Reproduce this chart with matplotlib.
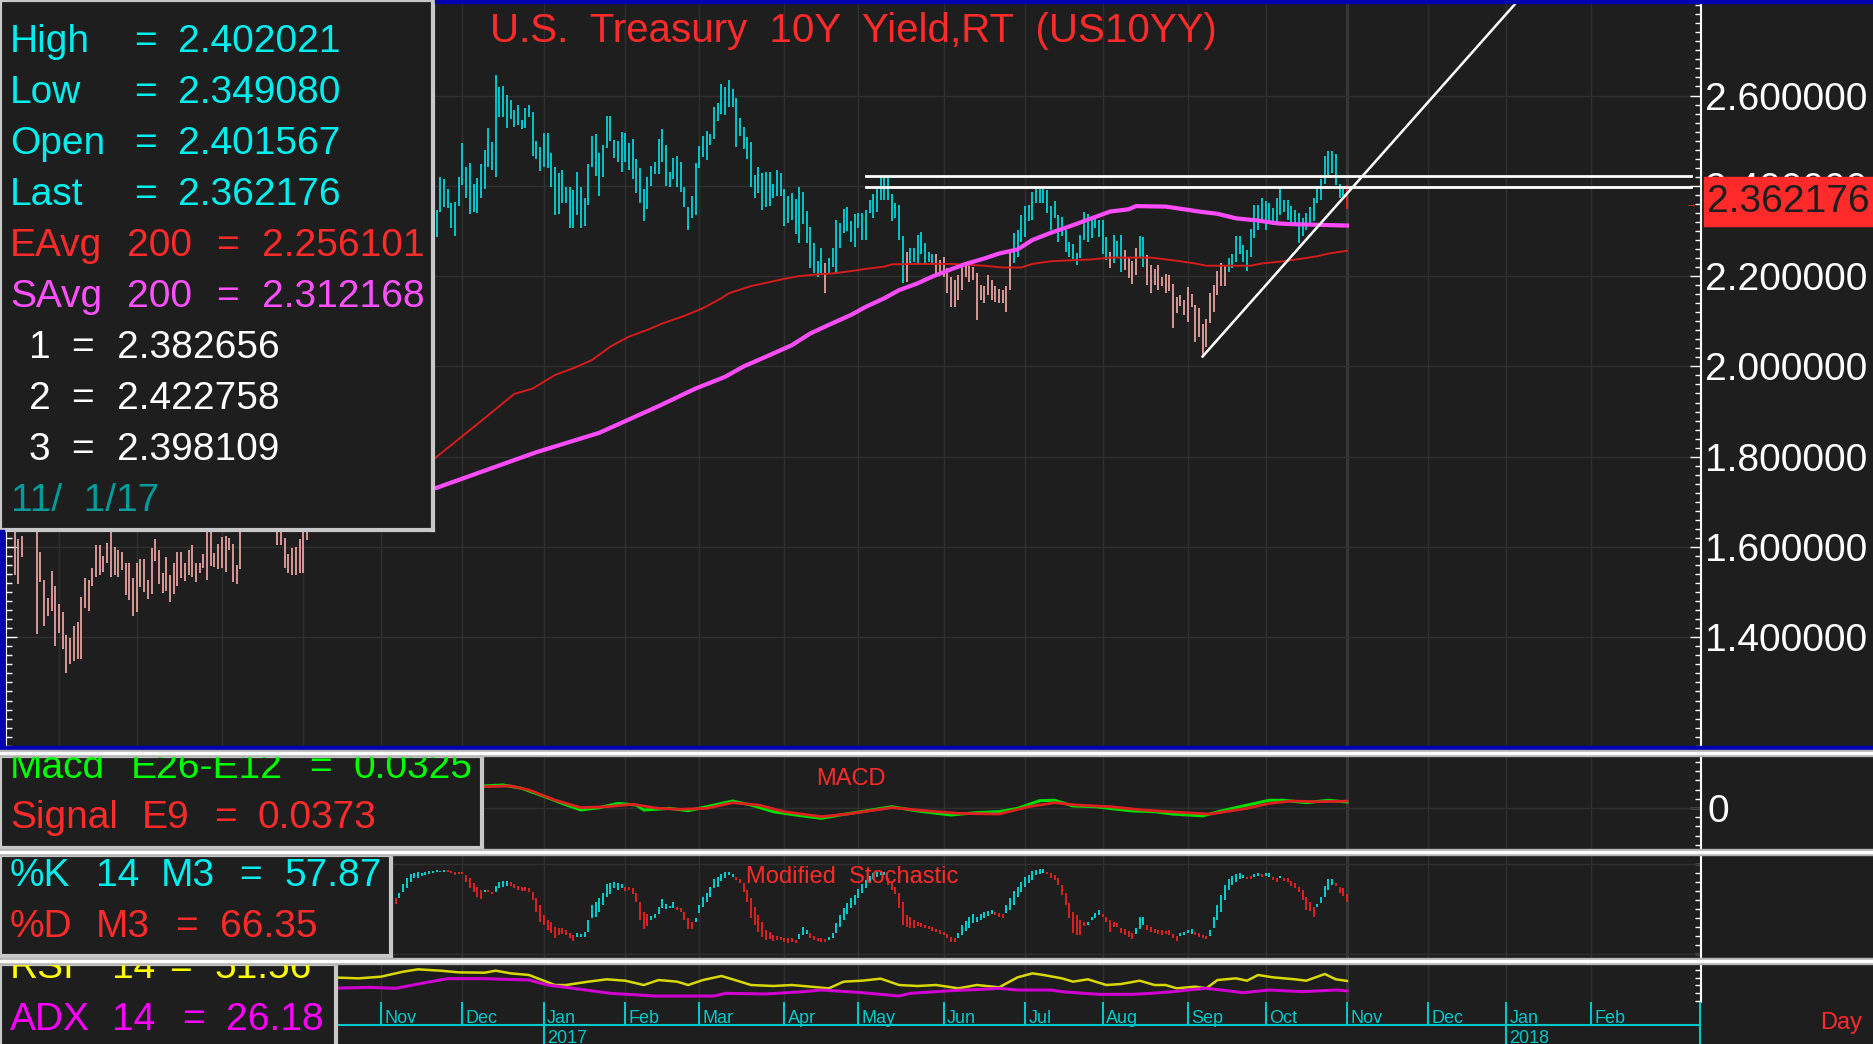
import matplotlib
matplotlib.use('Agg')
import matplotlib.pyplot as plt
from matplotlib.patches import Rectangle
from matplotlib.ticker import MultipleLocator
import numpy as np
import pandas as pd

plt.rcParams['font.family'] = ['Liberation Sans', 'DejaVu Sans']

# ---------------- data ----------------
START = '2016-06-15'      # first daily bar (weekday index 0)
TICK_END = '2018-02-28'

# daily highs / lows, 2016-06-15 .. 2017-11-01
HI = [1.66, 1.617, 1.624, 1.70, 1.72, 1.74, 1.75, 1.590, 1.527, 1.486,
      1.547, 1.514, 1.473, 1.457, 1.404, 1.398, 1.424, 1.433, 1.490, 1.531,
      1.527, 1.554, 1.604, 1.604, 1.580, 1.608, 1.635, 1.601, 1.593, 1.590,
      1.564, 1.564, 1.531, 1.564, 1.573, 1.573, 1.527, 1.597, 1.617, 1.593,
      1.542, 1.577, 1.538, 1.564, 1.590, 1.588, 1.564, 1.593, 1.604, 1.564,
      1.565, 1.584, 1.66, 1.65, 1.587, 1.607, 1.623, 1.624, 1.621, 1.607,
      1.560, 1.68, 1.68, 1.70, 1.72, 1.74, 1.73, 1.72, 1.71, 1.70,
      1.68, 1.66, 1.66, 1.619, 1.584, 1.597, 1.601, 1.617, 1.65, 1.70,
      1.74, 1.75, 1.74, 1.79, 1.80, 1.78, 1.81, 1.80, 1.78, 1.77,
      1.78, 1.77, 1.78, 1.79, 1.81, 1.87, 1.87, 1.86, 1.85, 1.86,
      1.84, 1.83, 1.81, 1.84, 1.88, 2.08, 2.15, 2.15, 2.30, 2.26,
      2.25, 2.30, 2.36, 2.34, 2.346, 2.419, 2.415, 2.394, 2.361, 2.365,
      2.420, 2.494, 2.441, 2.451, 2.404, 2.418, 2.448, 2.479, 2.527, 2.498,
      2.645, 2.618, 2.622, 2.601, 2.591, 2.568, 2.579, 2.546, 2.572, 2.579,
      2.564, 2.499, 2.485, 2.518, 2.518, 2.473, 2.441, 2.428, 2.434, 2.398,
      2.398, 2.391, 2.431, 2.398, 2.372, 2.448, 2.510, 2.515, 2.472, 2.490,
      2.555, 2.555, 2.501, 2.500, 2.520, 2.518, 2.494, 2.504, 2.459, 2.439,
      2.394, 2.420, 2.444, 2.453, 2.504, 2.525, 2.490, 2.431, 2.461, 2.465,
      2.453, 2.398, 2.352, 2.377, 2.451, 2.488, 2.510, 2.521, 2.515, 2.575,
      2.584, 2.625, 2.618, 2.634, 2.614, 2.594, 2.551, 2.531, 2.507, 2.498,
      2.424, 2.441, 2.428, 2.431, 2.431, 2.404, 2.435, 2.428, 2.394, 2.377,
      2.385, 2.370, 2.398, 2.387, 2.345, 2.308, 2.274, 2.234, 2.262, 2.228,
      2.239, 2.262, 2.324, 2.317, 2.348, 2.352, 2.321, 2.338, 2.340, 2.340,
      2.346, 2.369, 2.381, 2.398, 2.420, 2.420, 2.422, 2.382, 2.361, 2.357,
      2.289, 2.254, 2.262, 2.262, 2.291, 2.297, 2.273, 2.254, 2.250, 2.250,
      2.236, 2.242, 2.217, 2.199, 2.191, 2.202, 2.228, 2.232, 2.225, 2.221,
      2.206, 2.180, 2.177, 2.202, 2.191, 2.177, 2.171, 2.169, 2.177, 2.254,
      2.295, 2.302, 2.335, 2.355, 2.357, 2.387, 2.394, 2.394, 2.394, 2.391,
      2.355, 2.367, 2.335, 2.330, 2.302, 2.276, 2.272, 2.252, 2.291, 2.341,
      2.338, 2.328, 2.333, 2.324, 2.324, 2.286, 2.254, 2.291, 2.278, 2.291,
      2.258, 2.243, 2.234, 2.262, 2.289, 2.286, 2.247, 2.225, 2.215, 2.225,
      2.199, 2.205, 2.202, 2.182, 2.154, 2.158, 2.147, 2.175, 2.160, 2.136,
      2.129, 2.094, 2.106, 2.163, 2.180, 2.212, 2.228, 2.225, 2.239, 2.250,
      2.289, 2.289, 2.269, 2.258, 2.304, 2.357, 2.357, 2.372, 2.367, 2.361,
      2.350, 2.372, 2.394, 2.369, 2.369, 2.355, 2.346, 2.339, 2.328, 2.339,
      2.354, 2.372, 2.394, 2.414, 2.465, 2.476, 2.478, 2.470, 2.405, 2.394, 2.402]
LO = [1.538, 1.518, 1.577, 1.65, 1.66, 1.67, 1.407, 1.523, 1.424, 1.447,
      1.459, 1.381, 1.410, 1.373, 1.320, 1.341, 1.348, 1.353, 1.353, 1.466,
      1.459, 1.514, 1.534, 1.539, 1.544, 1.564, 1.534, 1.539, 1.534, 1.548,
      1.494, 1.483, 1.447, 1.455, 1.512, 1.501, 1.485, 1.497, 1.568, 1.518,
      1.499, 1.503, 1.478, 1.497, 1.514, 1.531, 1.525, 1.539, 1.534, 1.523,
      1.542, 1.553, 1.527, 1.558, 1.556, 1.551, 1.553, 1.544, 1.593, 1.523,
      1.517, 1.551, 1.64, 1.65, 1.66, 1.68, 1.68, 1.67, 1.66, 1.65,
      1.64, 1.604, 1.604, 1.554, 1.543, 1.538, 1.538, 1.542, 1.542, 1.616,
      1.68, 1.70, 1.69, 1.73, 1.75, 1.73, 1.74, 1.75, 1.73, 1.72,
      1.73, 1.73, 1.74, 1.75, 1.76, 1.80, 1.82, 1.81, 1.80, 1.81,
      1.78, 1.77, 1.76, 1.78, 1.80, 1.72, 2.02, 2.06, 2.12, 2.19,
      2.19, 2.21, 2.27, 2.27, 2.286, 2.343, 2.352, 2.350, 2.306, 2.289,
      2.355, 2.402, 2.372, 2.338, 2.343, 2.339, 2.372, 2.394, 2.441, 2.435,
      2.420, 2.552, 2.553, 2.527, 2.549, 2.531, 2.535, 2.525, 2.527, 2.552,
      2.465, 2.459, 2.433, 2.442, 2.439, 2.398, 2.335, 2.338, 2.361, 2.361,
      2.306, 2.306, 2.335, 2.306, 2.311, 2.357, 2.442, 2.422, 2.377, 2.419,
      2.483, 2.500, 2.461, 2.453, 2.431, 2.453, 2.434, 2.414, 2.385, 2.361,
      2.321, 2.348, 2.399, 2.426, 2.426, 2.453, 2.399, 2.397, 2.414, 2.397,
      2.387, 2.354, 2.302, 2.328, 2.335, 2.439, 2.464, 2.458, 2.490, 2.503,
      2.544, 2.560, 2.557, 2.575, 2.575, 2.485, 2.510, 2.481, 2.459, 2.397,
      2.372, 2.385, 2.346, 2.354, 2.355, 2.374, 2.377, 2.377, 2.312, 2.317,
      2.324, 2.293, 2.273, 2.315, 2.273, 2.219, 2.206, 2.199, 2.206, 2.162,
      2.206, 2.221, 2.206, 2.262, 2.295, 2.301, 2.276, 2.265, 2.306, 2.279,
      2.279, 2.339, 2.328, 2.343, 2.369, 2.369, 2.369, 2.322, 2.328, 2.281,
      2.184, 2.188, 2.228, 2.232, 2.228, 2.250, 2.228, 2.232, 2.227, 2.202,
      2.206, 2.199, 2.162, 2.132, 2.132, 2.147, 2.169, 2.199, 2.188, 2.191,
      2.103, 2.147, 2.140, 2.158, 2.147, 2.143, 2.140, 2.140, 2.121, 2.169,
      2.228, 2.243, 2.276, 2.287, 2.321, 2.324, 2.361, 2.361, 2.361, 2.339,
      2.302, 2.328, 2.276, 2.289, 2.254, 2.243, 2.237, 2.225, 2.239, 2.280,
      2.276, 2.284, 2.306, 2.286, 2.250, 2.236, 2.219, 2.228, 2.239, 2.210,
      2.214, 2.195, 2.183, 2.202, 2.239, 2.221, 2.180, 2.162, 2.180, 2.169,
      2.177, 2.163, 2.166, 2.084, 2.118, 2.134, 2.114, 2.099, 2.132, 2.055,
      2.066, 2.022, 2.044, 2.097, 2.121, 2.158, 2.178, 2.177, 2.210, 2.219,
      2.232, 2.250, 2.232, 2.212, 2.243, 2.284, 2.302, 2.324, 2.302, 2.321,
      2.313, 2.317, 2.335, 2.343, 2.324, 2.317, 2.315, 2.273, 2.289, 2.302,
      2.311, 2.321, 2.363, 2.369, 2.405, 2.420, 2.428, 2.402, 2.372, 2.376, 2.349]

# 200-day averages, read at knots (bar index, value)
EMA_I = [0, 40, 80, 100, 113, 125, 135, 140, 146, 151, 156, 161, 166, 171, 175, 181,
         186, 191, 193, 199, 203, 208, 212, 217, 221, 226, 230, 235, 237, 244, 253,
         262, 267, 272, 275, 280, 291, 296, 307, 314, 319, 322, 334, 337, 343, 348,
         352, 355, 360]
EMA_V = [1.90, 1.84, 1.78, 1.77, 1.793, 1.872, 1.939, 1.951, 1.981, 1.996, 2.014, 2.044,
         2.066, 2.081, 2.095, 2.112, 2.129, 2.151, 2.162, 2.178, 2.185, 2.194, 2.200,
         2.204, 2.206, 2.211, 2.216, 2.221, 2.226, 2.227, 2.227, 2.223, 2.219, 2.219,
         2.227, 2.233, 2.237, 2.241, 2.241, 2.234, 2.228, 2.223, 2.223, 2.228, 2.233,
         2.239, 2.244, 2.250, 2.256]
SMA_I = [100, 114, 141, 158, 174, 184, 192, 197, 204, 210, 215, 220, 226, 230, 235, 239,
         244, 248, 253, 257, 262, 266, 271, 275, 280, 285, 291, 296, 301, 303, 311, 316,
         320, 325, 330, 336, 341, 345, 360]
SMA_V = [1.725, 1.731, 1.810, 1.853, 1.912, 1.951, 1.977, 2.000, 2.025, 2.047, 2.073,
         2.092, 2.114, 2.132, 2.151, 2.169, 2.184, 2.199, 2.215, 2.227, 2.239, 2.250,
         2.259, 2.280, 2.296, 2.310, 2.328, 2.343, 2.348, 2.355, 2.354, 2.348, 2.343,
         2.338, 2.328, 2.323, 2.317, 2.315, 2.312]

LEVELS = [2.422758, 2.398109]            # drawn horizontal lines 2 and 3
LEVEL_SPAN = (230, 453)
TREND = [(321, 2.022), (360, 2.382656)]   # trend line 1

MACD_I = [120, 127, 132, 137, 142, 148, 153, 158, 163, 168, 170, 177, 182, 187, 194, 199,
          205, 211, 218, 223, 230, 237, 244, 253, 260, 266, 271, 277, 281, 286, 292, 298,
          302, 308, 313, 321, 326, 332, 339, 343, 349, 355, 360]
MACD_V = [0.115, 0.120, 0.125, 0.107, 0.071, 0.025, -0.011, 0.002, 0.025, 0.016, -0.011,
          -0.002, -0.015, 0.007, 0.038, 0.016, -0.020, -0.038, -0.056, -0.038, -0.016,
          0.007, -0.016, -0.038, -0.025, -0.020, -0.002, 0.040, 0.042, 0.011, 0.007,
          -0.007, -0.016, -0.020, -0.033, -0.043, -0.016, 0.011, 0.042, 0.042, 0.029,
          0.042, 0.0325]
SIG_I = [120, 127, 134, 139, 146, 153, 160, 167, 174, 180, 187, 194, 201, 208, 218, 225,
         237, 244, 255, 266, 274, 281, 287, 296, 305, 316, 323, 333, 339, 345, 352, 360]
SIG_V = [0.110, 0.116, 0.120, 0.098, 0.043, 0.002, 0.007, 0.020, -0.002, -0.007, -0.002,
         0.029, 0.016, -0.020, -0.047, -0.033, 0.002, -0.011, -0.029, -0.033, 0.007,
         0.029, 0.016, 0.007, -0.011, -0.025, -0.033, -0.002, 0.025, 0.038, 0.034, 0.0373]

# modified stochastic %K / %D from bar 102 on
K0 = 102
K = [50.7, 55.2, 67.4, 77.4, 84.1, 88.9, 89.6, 90.7, 89.6, 90.7,
     92.2, 92.6, 93.7, 92.6, 93.7, 91.0, 89.6, 87.8, 88.5, 88.5,
     79.6, 73.7, 68.5, 63.7, 61.1, 71.5, 68.5, 66.3, 75.9, 79.6,
     81.1, 81.1, 75.9, 73.7, 71.1, 70.0, 70.0, 69.3, 60.0, 47.0,
     35.9, 32.2, 26.7, 23.0, 17.4, 21.1, 21.9, 21.1, 18.1, 14.4,
     23.0, 22.2, 24.8, 37.8, 54.4, 58.1, 62.6, 67.4, 77.4, 78.5,
     79.6, 78.5, 77.4, 70.0, 71.1, 66.3, 58.1, 37.8, 27.8, 31.5,
     42.6, 44.1, 52.6, 60.7, 55.2, 53.7, 57.4, 48.9, 46.3, 37.8,
     27.8, 27.8, 40.4, 54.4, 63.7, 67.4, 74.8, 83.3, 85.9, 88.5,
     90.7, 90.7, 88.9, 82.2, 78.5, 69.3, 58.1, 39.6, 32.2, 24.8,
     19.3, 15.6, 16.7, 14.4, 15.6, 15.6, 13.0, 11.9, 13.0, 11.9,
     21.9, 30.4, 26.7, 18.1, 15.6, 14.4, 13.7, 13.0, 19.3, 23.0,
     34.1, 43.3, 50.7, 56.3, 61.9, 65.6, 72.2, 77.4, 82.2, 87.0,
     89.6, 90.7, 91.5, 91.5, 76.7, 71.1, 66.3, 50.7, 32.2, 30.4,
     28.5, 29.3, 31.5, 30.4, 28.5, 27.8, 25.6, 24.1, 21.9, 21.1,
     17.4, 13.0, 13.0, 23.0, 32.2, 36.7, 41.5, 44.1, 41.5, 44.1,
     46.3, 47.8, 48.9, 43.3, 41.5, 39.6, 54.4, 61.9, 70.0, 74.8,
     79.6, 85.9, 87.8, 92.2, 93.3, 94.4, 94.1, 88.5, 84.8, 82.2,
     76.7, 65.6, 54.4, 39.6, 23.0, 21.1, 21.1, 31.5, 35.9, 41.5,
     45.2, 48.9, 41.5, 35.9, 24.8, 30.4, 30.4, 23.0, 21.1, 19.3,
     16.7, 28.5, 41.5, 41.5, 26.7, 24.8, 23.0, 21.9, 21.1, 21.9,
     21.1, 17.4, 14.4, 23.0, 24.1, 26.7, 27.8, 21.1, 19.3, 17.4,
     16.7, 26.7, 41.5, 54.4, 65.6, 76.7, 83.3, 87.0, 88.5, 89.6,
     87.8, 83.3, 83.3, 88.5, 89.6, 85.9, 89.6, 89.6, 82.2, 80.4,
     87.0, 81.1, 79.6, 75.9, 73.0, 69.3, 60.0, 48.9, 47.8, 41.5,
     55.2, 63.7, 75.9, 83.3, 83.3, 76.0, 67.4, 64.8, 57.87]
D = [63.7, 62.6, 62.6, 68.5, 73.0, 80.4, 84.8, 84.8, 86.7, 87.8,
     88.5, 89.6, 90.7, 90.7, 91.5, 93.0, 92.2, 90.7, 91.5, 90.7,
     87.8, 84.1, 79.3, 74.1, 71.1, 69.3, 71.1, 69.3, 69.3, 73.7,
     74.8, 75.9, 79.6, 77.4, 75.6, 74.8, 74.8, 73.0, 69.3, 61.9,
     54.4, 43.3, 37.8, 35.9, 30.4, 29.3, 28.5, 26.7, 23.0, 21.1,
     19.3, 19.3, 19.3, 24.8, 39.6, 41.5, 47.0, 54.4, 63.7, 66.3,
     73.0, 71.1, 73.0, 74.8, 74.8, 73.0, 67.4, 58.1, 47.0, 44.1,
     37.8, 40.4, 44.1, 50.7, 50.0, 51.5, 51.5, 52.6, 50.7, 46.3,
     40.4, 35.9, 35.9, 45.2, 52.6, 58.1, 63.7, 73.0, 74.8, 81.1,
     84.1, 87.8, 85.9, 85.9, 83.3, 78.5, 71.1, 61.9, 52.6, 43.3,
     35.9, 26.7, 24.1, 21.1, 20.4, 19.3, 18.1, 17.4, 17.4, 15.6,
     16.7, 21.1, 21.9, 23.0, 20.4, 18.1, 17.4, 16.7, 15.6, 17.4,
     23.0, 30.4, 37.8, 44.1, 50.7, 54.4, 61.9, 67.4, 73.7, 78.5,
     83.3, 85.9, 87.8, 87.8, 84.1, 80.4, 74.8, 67.4, 57.4, 43.3,
     41.5, 37.8, 35.9, 34.1, 32.2, 31.5, 30.4, 27.8, 26.7, 24.1,
     21.9, 19.3, 18.1, 17.4, 21.1, 25.6, 29.3, 34.1, 35.9, 37.8,
     40.4, 42.6, 44.1, 46.3, 45.2, 44.1, 45.2, 48.9, 54.4, 63.7,
     68.5, 74.8, 78.5, 82.2, 87.8, 88.5, 89.6, 91.5, 89.6, 87.8,
     84.1, 76.7, 67.4, 56.3, 46.3, 43.3, 37.8, 35.9, 32.2, 37.8,
     39.6, 43.3, 44.1, 41.5, 37.8, 35.9, 34.1, 28.5, 27.8, 25.6,
     23.0, 21.9, 27.8, 32.2, 32.2, 30.4, 27.8, 26.7, 26.7, 25.6,
     26.7, 21.9, 20.4, 20.4, 21.1, 23.0, 21.9, 24.8, 23.0, 21.1,
     20.4, 20.4, 28.5, 37.8, 47.0, 60.0, 71.1, 76.7, 80.4, 83.3,
     84.1, 85.9, 87.0, 85.9, 87.0, 88.5, 87.0, 85.9, 85.9, 84.8,
     84.1, 84.8, 84.1, 81.1, 78.5, 74.8, 71.1, 63.7, 58.1, 52.6,
     52.6, 56.3, 63.7, 71.1, 76.7, 78.5, 74.8, 73.0, 66.35]

RSI_I = [85, 93, 99, 105, 109, 115, 120, 127, 130, 134, 139, 142, 146, 149, 155, 160,
         165, 170, 174, 179, 182, 186, 191, 194, 199, 205, 210, 215, 220, 224, 229, 234,
         239, 244, 249, 255, 260, 266, 271, 275, 278, 283, 286, 290, 295, 299, 304, 308,
         311, 314, 319, 322, 325, 330, 333, 336, 340, 346, 349, 354, 357, 360]
RSI_V = [60.7, 58.1, 62.4, 75.2, 81.2, 77.8, 73.5, 72.6, 77.8, 70.9, 66.7, 55.6, 41.0,
         41.0, 49.6, 55.6, 52.1, 41.0, 53.8, 49.6, 41.0, 53.8, 64.1, 55.6, 41.0, 38.5,
         41.0, 36.8, 32.5, 49.6, 52.1, 57.3, 41.0, 38.5, 41.0, 32.5, 41.0, 35.0, 60.7,
         70.9, 66.7, 58.1, 49.6, 55.6, 41.0, 43.6, 52.1, 41.0, 41.0, 32.5, 36.8, 32.5,
         53.8, 58.1, 52.1, 66.7, 60.7, 55.6, 52.1, 69.2, 55.6, 51.56]
ADX_I = [85, 96, 103, 110, 117, 127, 139, 144, 151, 161, 173, 189, 192, 203, 213, 218,
         229, 239, 242, 253, 261, 266, 271, 280, 283, 289, 293, 302, 307, 313, 317, 322,
         326, 332, 339, 348, 357, 360]
ADX_V = [32.5, 35.0, 32.5, 45.3, 57.3, 57.3, 53.8, 41.0, 32.5, 19.7, 12.8, 12.8, 19.7,
         18.0, 23.9, 28.2, 21.4, 12.8, 19.7, 26.5, 29.9, 32.5, 28.2, 28.2, 23.9, 19.7,
         17.1, 17.1, 19.7, 23.9, 28.2, 32.5, 28.2, 21.4, 28.2, 23.9, 28.2, 26.18]

Y_TICKS = [1.4, 1.6, 1.8, 2.0, 2.2, 2.4, 2.6]
TITLE = 'U.S.  Treasury  10Y  Yield,RT  (US10YY)'
LAST_TXT = '2.362176'

# ---------------- layout ----------------
W, H = 1874, 1044
BG = '#1e1e1e'
GRID = '#303030'
CYAN = '#00eeee'
RED = '#ff2a2a'
MAG = '#ff50ff'
AXC = '#00c8c8'
XL = (-2.32, 455.66)
BIG = 28   # size of the large read-out text
RSI_BOX_RIGHT = 336

fig = plt.figure(figsize=(W / 100, H / 100), dpi=100, facecolor=BG)


def rect(x0, y0, x1, y1):
    return [x0 / W, 1 - y1 / H, (x1 - x0) / W, (y1 - y0) / H]


def ftext(x, y, s, **kw):
    fig.text(x / W, 1 - y / H, s, **kw)


def idx_to_px(i):
    return 6 + (i - XL[0]) / (XL[1] - XL[0]) * 1695


dates = pd.bdate_range(START, TICK_END)
month_idx = [i for i in range(1, len(dates)) if dates[i].month != dates[i - 1].month]


def panel(y0, y1, ylim):
    a = fig.add_axes(rect(6, y0, 1701, y1))
    a.set_facecolor(BG)
    a.set_xlim(XL)
    a.set_ylim(ylim)
    for s in ('top', 'bottom'):
        a.spines[s].set_visible(False)
    a.spines['left'].set_color('white')
    a.spines['right'].set_color('white')
    a.spines['right'].set_linewidth(1.5)
    a.set_xticks(month_idx)
    a.tick_params(axis='x', length=0, labelbottom=False)
    a.grid(True, axis='x', color=GRID, lw=1)
    a.yaxis.set_ticks_position('both')
    a.tick_params(axis='y', which='both', direction='in', colors='white',
                  labelleft=False, labelright=False)
    a.tick_params(axis='y', which='major', length=8, width=1)
    a.tick_params(axis='y', which='minor', length=4, width=1)
    a.axvline(len(HI) - 1, color='#c0c0c0', lw=1, zorder=1)
    return a


# ---- main price panel ----
ax = panel(3, 749, (1.1526, 2.8049))
ax.set_yticks(Y_TICKS)
ax.set_yticklabels(['%.6f' % v for v in Y_TICKS])
ax.yaxis.set_minor_locator(MultipleLocator(0.02))
ax.tick_params(axis='y', which='major', labelright=True, labelsize=BIG, pad=3)
ax.grid(True, axis='y', which='major', color=GRID, lw=1)

idx = np.arange(len(HI))
hi = np.array(HI)
lo = np.array(LO)
ema_at = np.interp(idx, EMA_I, EMA_V)
cols = np.where((hi + lo) / 2 < ema_at, '#e8a0a0', '#00d4d8')
cols[-1] = '#ff2020'
ax.vlines(idx, lo, hi, colors=cols, lw=1.3, zorder=3)
ax.plot(EMA_I, EMA_V, color='#d41c1c', lw=1.4, zorder=4)
ax.plot(SMA_I, SMA_V, color='#ff4cff', lw=3, zorder=4)
for v in LEVELS:
    ax.plot(LEVEL_SPAN, [v, v], color='white', lw=2, zorder=5)
(tx0, ty0), (tx1, ty1) = TREND
slope = (ty1 - ty0) / (tx1 - tx0)
ax.plot([tx0, 420], [ty0, ty0 + slope * (420 - tx0)], color='white', lw=1.8, zorder=5)

# ---- MACD ----
axm = panel(756, 849, (-0.2228, 0.2826))
axm.set_yticks([0])
axm.set_yticklabels(['0'])
axm.yaxis.set_minor_locator(MultipleLocator(0.05))
axm.tick_params(axis='y', which='major', labelright=True, labelsize=BIG, pad=5)
axm.axhline(0, color=GRID, lw=1)
axm.plot(MACD_I, MACD_V, color='#00dd00', lw=2.2, zorder=3)
axm.plot(SIG_I, SIG_V, color='#e02020', lw=2.0, zorder=4)

# ---- stochastic ----
axs = panel(855, 958, (-4.44, 110))
axs.set_yticks(range(0, 101, 10))
axs.tick_params(axis='y', which='major', length=4)
axs.axhline(0, color=GRID, lw=1)
axs.axhline(100, color=GRID, lw=1)
k = np.array(K)
d = np.array(D)
kx = np.arange(K0, K0 + len(K))
scol = np.where(k >= d, '#00d0d0', '#e02020')
axs.vlines(kx, np.minimum(k, d), np.maximum(k, d), colors=scol, lw=1.4, zorder=3)

# ---- RSI / ADX ----
axr = panel(964, 1002, (-2.56, 94.9))
axr.set_yticks(range(0, 100, 20))
axr.tick_params(axis='y', which='major', length=4)
axr.plot(RSI_I, RSI_V, color='#d8d800', lw=1.8, zorder=3)
axr.plot(ADX_I, ADX_V, color='#d000d0', lw=2.2, zorder=3)

# ---- date axis ----
axd = fig.add_axes(rect(6, 1002, 1701, 1044))
axd.set_facecolor(BG)
axd.set_xlim(XL)
axd.set_ylim(1044, 1002)
axd.axis('off')
axd.axhline(1025, color=AXC, lw=1.5)
axd.axvline(XL[1] - 0.15, color=AXC, lw=1.5)
for m in month_idx:
    if idx_to_px(m) < RSI_BOX_RIGHT:
        continue          # hidden behind the read-out box
    dt = dates[m]
    axd.plot([m, m], [1002, 1044 if dt.month == 1 else 1025], color=AXC, lw=1.5)
    axd.text(m + 0.9, 1022.5, dt.strftime('%b'), color=AXC, fontsize=13, va='baseline')
    if dt.month == 1:
        axd.text(m + 0.9, 1043, str(dt.year), color=AXC, fontsize=13, va='baseline')


# ---- label boxes ----
def box(x1, y0, y1):
    b = fig.add_axes(rect(0, y0, x1, y1))
    b.set_facecolor(BG)
    b.set_xlim(0, x1)
    b.set_ylim(y1 - y0, 0)
    b.set_xticks([])
    b.set_yticks([])
    for s in b.spines.values():
        s.set_color('#c8c8c8')
        s.set_linewidth(3)
    return b


def row(b, y, parts, size=BIG):
    for x, s, c in parts:
        b.text(x, y, s, color=c, fontsize=size, va='baseline', clip_on=True)


info = box(433, 0, 530)
for j, (lab, val) in enumerate([('High', '2.402021'), ('Low', '2.349080'),
                                 ('Open', '2.401567'), ('Last', '2.362176')]):
    row(info, 52 + 51 * j, [(10, lab, CYAN), (134, '=', CYAN), (178, val, CYAN)])
row(info, 256, [(10, 'EAvg', RED), (127, '200', RED), (216, '=', RED), (262, '2.256101', RED)])
row(info, 307, [(10, 'SAvg', MAG), (127, '200', MAG), (216, '=', MAG), (262, '2.312168', MAG)])
for j, (lab, val) in enumerate([('1', '2.382656'), ('2', '2.422758'), ('3', '2.398109')]):
    row(info, 358 + 51 * j, [(29, lab, 'white'), (71, '=', 'white'), (117, val, 'white')])
row(info, 511, [(11, '11/  1/17', '#009c9c')])

mb = box(482, 756, 848)
row(mb, 22, [(10, 'Macd', '#00ff00'), (131, 'E26-E12', '#00ff00'), (309, '=', '#00ff00'),
             (354, '0.0325', '#00ff00')])
row(mb, 72, [(10, 'Signal', RED), (142, 'E9', RED), (214, '=', RED), (258, '0.0373', RED)])

sb = box(391, 855, 956)
row(sb, 31, [(10, '%K', CYAN), (96, '14', CYAN), (161, 'M3', CYAN), (239, '=', CYAN),
             (284, '57.87', CYAN)])
row(sb, 82, [(10, '%D', RED), (96, 'M3', RED), (175, '=', RED), (220, '66.35', RED)])

rb = box(RSI_BOX_RIGHT, 964, 1046)
row(rb, 14, [(10, 'RSI', '#ffff00'), (112, '14', '#ffff00'), (169, '=', '#ffff00'),
             (214, '51.56', '#ffff00')])
row(rb, 66, [(10, 'ADX', '#ff00ff'), (112, '14', '#ff00ff'), (182, '=', '#ff00ff'),
             (226, '26.18', '#ff00ff')])

# ---- frame strips and separators ----
fig.patches.append(Rectangle((435 / W, 1 - 3 / H), 1, 3 / H, transform=fig.transFigure,
                             color='#0000b0', zorder=2))
fig.patches.append(Rectangle((0, 1 - 750 / H), 1, 4 / H, transform=fig.transFigure,
                             color='#0000b0', zorder=2))
fig.patches.append(Rectangle((0, 1 - 750 / H), 4 / W, 220 / H, transform=fig.transFigure,
                             color='#0000b0', zorder=2))
for ys in (750, 849, 958):
    fig.patches.append(Rectangle((0, 1 - (ys + 6) / H), 1, 6 / H, transform=fig.transFigure,
                                 color='#b4b4b4', zorder=2))
    fig.patches.append(Rectangle((0, 1 - (ys + 4) / H), 1, 2 / H, transform=fig.transFigure,
                                 color='white', zorder=2))
fig.patches.append(Rectangle((1704 / W, 1 - 226 / H), 170 / W, 49 / H,
                             transform=fig.transFigure, color=RED, zorder=2))

# ---- texts ----
ftext(490, 42, TITLE, color=RED, fontsize=29, va='baseline')
ftext(1707, 201.5, LAST_TXT, color='#1e1e1e', fontsize=BIG, va='center', zorder=3)
ftext(1686, 203, '\u2192', color=RED, fontsize=8, va='center')
ftext(851, 785, 'MACD', color=RED, fontsize=17, ha='center', va='baseline')
ftext(746, 883, 'Modified  Stochastic', color=RED, fontsize=17, va='baseline')
ftext(1820, 1029, 'Day', color=RED, fontsize=17, va='baseline')

fig.savefig('out.png', dpi=100, facecolor=BG)
